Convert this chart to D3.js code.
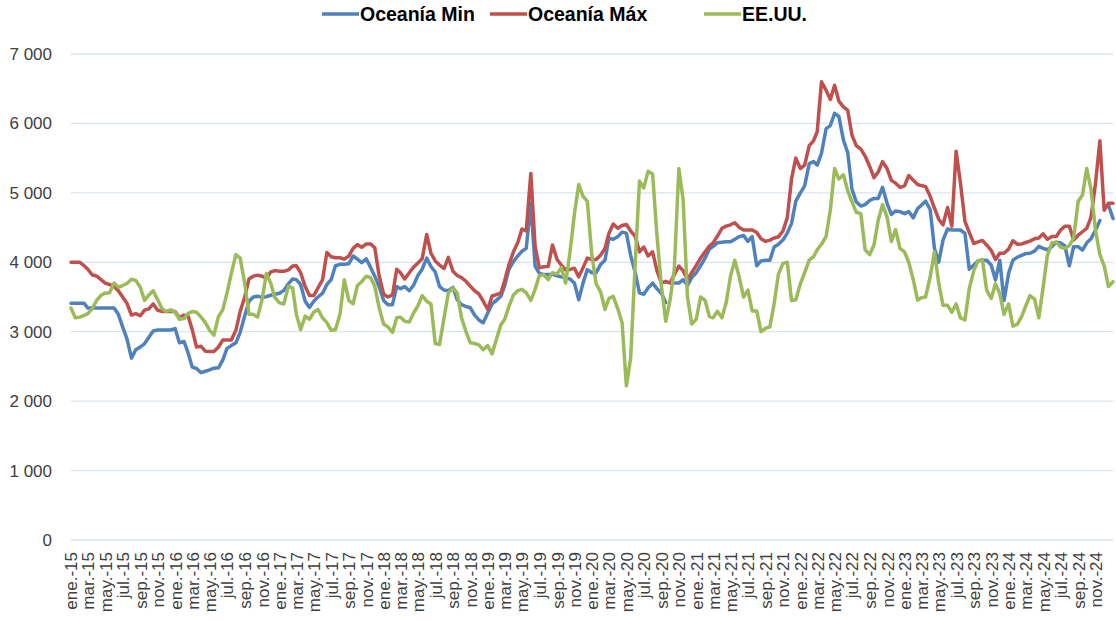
<!DOCTYPE html>
<html>
<head>
<meta charset="utf-8">
<script src="https://cdn.jsdelivr.net/npm/d3@7/dist/d3.min.js"></script>
<style>
  body { margin: 0; background: #fff; }
  svg text { font-family: "Liberation Sans", Arial, sans-serif; }
</style>
</head>
<body>
<svg id="chart" width="1116" height="621"></svg>
<script>
// half-month series, starting ene.-15
var startDate = new Date(2015, 0, 1);
var endDate = new Date(2025, 0, 1);
var monthAbbr = ["ene.", "feb.", "mar.", "abr.", "may.", "jun.", "jul.", "ago.", "sep.", "oct.", "nov.", "dic."];
var seriesNames = ["Oceanía Min", "Oceanía Máx", "EE.UU."];
var seriesColors = ["#4F81BD", "#C0504D", "#9BBB59"];
var yTicks = [0, 1000, 2000, 3000, 4000, 5000, 6000, 7000];

var minVals = [
  3410,3410,3410,3410,3340,3340,3340,3340,3340,3340,
  3340,3250,3070,2900,2620,2740,2780,2830,2920,3010,
  3025,3025,3025,3025,3045,2840,2860,2690,2490,2470,
  2410,2430,2450,2475,2480,2590,2760,2800,2840,2990,
  3230,3440,3500,3510,3495,3505,3525,3540,3555,3595,
  3690,3760,3750,3680,3440,3350,3440,3500,3555,3680,
  3750,3950,3970,3970,3980,4090,4045,3995,4050,3930,
  3800,3650,3450,3390,3390,3650,3620,3650,3590,3670,
  3810,3900,4060,3940,3860,3650,3600,3590,3640,3460,
  3390,3365,3345,3240,3170,3130,3270,3400,3455,3510,
  3655,3900,4010,4090,4160,4200,4850,3945,3840,3825,
  3825,3825,3805,3790,3775,3760,3700,3460,3700,3895,
  3850,3850,3970,4030,4350,4330,4370,4435,4420,4100,
  3850,3560,3540,3630,3700,3620,3550,3420,null,3700,
  3700,3750,3665,3780,3850,3950,4060,4190,4230,4280,
  4290,4295,4295,4330,4370,4385,4300,4370,3950,4020,
  4030,4030,4220,4260,4320,4420,4560,4880,5000,5100,
  5420,5450,5400,5570,5920,5970,6145,6100,5760,5580,
  5050,4870,4810,4830,4890,4920,4920,5080,4850,4690,
  4740,4730,4700,4730,4640,4775,4820,4880,4760,4200,
  4000,4320,4480,4465,4465,4465,4415,3900,3960,4020,
  4030,4030,3960,3745,4030,3450,3840,4030,4075,4100,
  4125,4130,4160,4230,4200,4180,4225,4290,4280,4240,
  3950,4225,4225,4175,4280,4340,4465,4600,null,4825,4630
];

var maxVals = [
  4000,4000,4000,3950,3900,3820,3800,3750,3700,3680,
  3650,3590,3500,3410,3240,3260,3230,3310,3330,3400,
  3310,3295,3290,3290,3290,3200,3240,3220,3030,2780,
  2790,2720,2715,2715,2780,2880,2880,2880,3020,3290,
  3500,3760,3800,3815,3800,3770,3860,3880,3870,3870,
  3890,3945,3950,3850,3650,3520,3520,3630,3750,4140,
  4080,4065,4065,4045,4090,4200,4255,4215,4265,4265,
  4210,3810,3540,3500,3530,3900,3850,3760,3850,3930,
  3990,4050,4400,4130,4020,3960,3910,4070,3870,3810,
  3780,3730,3655,3590,3545,3440,3320,3515,3535,3560,
  3730,3960,4150,4280,4480,4450,5280,4230,3920,3935,
  3940,4250,4040,3960,3890,3895,3915,3790,3920,4060,
  4040,4040,4105,4200,4420,4550,4490,4530,4545,4450,
  4375,4150,4220,4090,4150,3880,3700,3725,3700,3820,
  3945,3880,3755,3850,3955,4060,4150,4235,4280,4375,
  4490,4520,4540,4570,4500,4465,4465,4465,4430,4340,
  4300,4320,4350,4365,4450,4640,5200,5500,5350,5400,
  5680,5750,5880,6600,6480,6345,6550,6320,6240,6190,
  5830,5680,5630,5530,5380,5220,5300,5450,5350,5180,
  5140,5080,5100,5250,5180,5120,5105,5090,4950,4780,
  4620,4540,4790,4520,5600,5150,4590,4430,4270,4295,
  4315,4250,4170,4040,4130,4130,4190,4310,4260,4265,
  4285,4305,4340,4350,4410,4330,4370,4370,4460,4520,
  4520,4320,4390,4440,4490,4650,5150,5750,4750,4850,4850
];

var usaVals = [
  3340,3200,3210,3235,3260,3330,3450,3525,3555,3560,
  3700,3640,3665,3695,3755,3740,3640,3450,3530,3590,
  3460,3330,3290,3315,3280,3180,3190,3265,3290,3280,
  3210,3130,3020,2950,3220,3315,3560,3840,4110,4060,
  3700,3250,3250,3210,3465,3840,3700,3490,3415,3400,
  3655,3630,3250,3030,3225,3180,3280,3320,3200,3130,
  3020,3030,3250,3750,3450,3400,3665,3720,3800,3780,
  3655,3350,3110,3070,2990,3200,3210,3150,3140,3270,
  3370,3520,3440,3400,2830,2815,3200,3560,3630,3560,
  3200,3010,2840,2830,2810,2740,2800,2680,2900,3100,
  3175,3360,3530,3590,3610,3560,3450,3610,3810,3820,
  3750,3850,3830,3925,3700,4135,4700,5120,4950,4880,
  4100,3690,3570,3320,3480,3510,3330,3130,2220,2620,
  3990,5170,5070,5310,5270,4400,3650,3150,3450,3900,
  5350,4900,3510,3110,3180,3500,3450,3220,3200,3295,
  3200,3420,3800,4030,3780,3500,3600,3300,3300,3000,
  3050,3070,3400,3830,3985,4000,3450,3460,3690,3850,
  4030,4080,4180,4260,4370,4750,5350,5200,5260,5030,
  4870,4720,4700,4180,4110,4250,4610,4830,4650,4300,
  4470,4200,4150,4000,3745,3455,3490,3500,3790,4150,
  3700,3380,3380,3280,3400,3200,3170,3620,3880,4020,
  4040,3600,3480,3690,3550,3250,3400,3080,3110,3220,
  3370,3520,3470,3200,3640,4100,4280,4290,4220,4200,
  4240,4350,4880,4970,5350,5050,4450,4110,3950,3650,3720
];

var seriesVals = [minVals, maxVals, usaVals];

// one point per half month
var periods = minVals.map(function(d, i) {
  var m = d3.timeMonth.offset(startDate, Math.floor(i / 2));
  return i % 2 ? d3.timeDay.offset(m, 15) : m;
});

var svg = d3.select("#chart");
var plotLeft = 71, plotRight = 1113, plotTop = 54, plotBottom = 540;

var x = d3.scaleTime().domain([startDate, endDate]).range([plotLeft, plotRight]);
var y = d3.scaleLinear().domain([0, 7000]).range([plotBottom, plotTop]);

var esLocale = d3.formatLocale({ decimal: ",", thousands: " ", grouping: [3], currency: ["", ""] });
var fmt = esLocale.format(",");

// gridlines
svg.append("g")
  .selectAll("line")
  .data(yTicks)
  .enter().append("line")
  .attr("x1", plotLeft)
  .attr("x2", plotRight)
  .attr("y1", function(d) { return y(d); })
  .attr("y2", function(d) { return y(d); })
  .attr("stroke", "#D9E3F0")
  .attr("stroke-width", 1.3);

// y labels
svg.append("g")
  .selectAll("text")
  .data(yTicks)
  .enter().append("text")
  .attr("x", 52)
  .attr("y", function(d) { return y(d); })
  .attr("dy", "0.35em")
  .attr("text-anchor", "end")
  .attr("font-size", 17)
  .attr("fill", "#404040")
  .text(function(d) { return fmt(d); });

// x axis, labels every two months
var xTickVals = d3.timeMonth.every(2).range(startDate, endDate);
var xAxis = d3.axisBottom(x)
  .tickValues(xTickVals)
  .tickSize(0)
  .tickFormat(function(d) {
    return monthAbbr[d.getMonth()] + "-" + String(d.getFullYear()).slice(2);
  });

var gx = svg.append("g")
  .attr("transform", "translate(0," + plotBottom + ")")
  .call(xAxis);
gx.select(".domain").remove();
gx.selectAll("text")
  .attr("font-family", "Liberation Sans, Arial, sans-serif")
  .attr("font-size", 17)
  .attr("fill", "#404040")
  .attr("transform", "rotate(-90)")
  .attr("text-anchor", "end")
  .attr("x", -12)
  .attr("y", 0)
  .attr("dy", "0.35em");

// lines
var line = d3.line()
  .defined(function(d) { return d[1] != null; })
  .x(function(d) { return x(d[0]); })
  .y(function(d) { return y(d[1]); });

seriesVals.forEach(function(vals, s) {
  var pts = vals.map(function(v, i) { return [periods[i], v]; });
  svg.append("path")
    .datum(pts)
    .attr("fill", "none")
    .attr("stroke", seriesColors[s])
    .attr("stroke-width", 3.5)
    .attr("stroke-linejoin", "round")
    .attr("stroke-linecap", "round")
    .attr("d", line);
});

// legend
var legendX = [322, 490, 704];
var legend = svg.append("g").selectAll("g")
  .data(seriesNames)
  .enter().append("g")
  .attr("transform", function(d, i) { return "translate(" + legendX[i] + ",14)"; });
legend.append("line")
  .attr("x1", 0).attr("x2", 37)
  .attr("stroke", function(d, i) { return seriesColors[i]; })
  .attr("stroke-width", 3.5);
legend.append("text")
  .attr("x", 38)
  .attr("dy", "0.35em")
  .attr("font-size", 19.5)
  .attr("font-weight", "bold")
  .attr("fill", "#000")
  .text(function(d) { return d; });
</script>
</body>
</html>
